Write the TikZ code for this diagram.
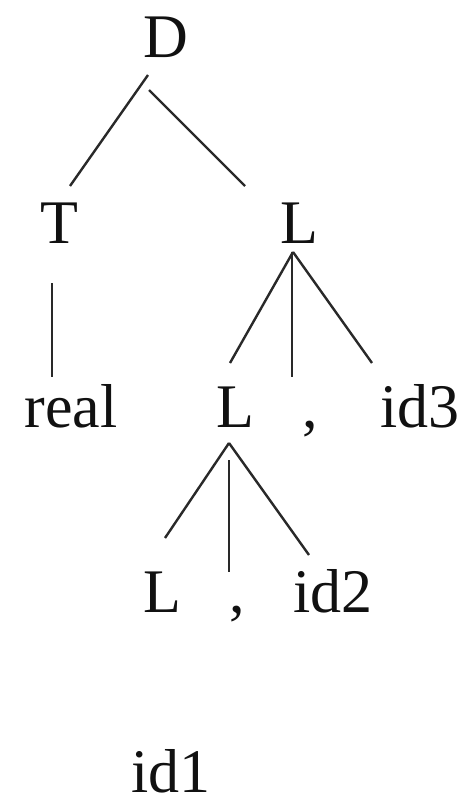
\documentclass[tikz,border=0pt]{standalone}
\usepackage{fontspec}
\setmainfont{Liberation Serif}
\usetikzlibrary{calc}
\definecolor{ptink}{HTML}{111111}
\tikzset{
  sym/.style={anchor=base,inner sep=0pt,text=ptink,font=\fontsize{31}{37}\selectfont},
  edge/.style={draw=ptink!90,line width=1.2pt},
}

\begin{document}
\begin{tikzpicture}[x=0.5pt,y=-0.5pt]
  \useasboundingbox (0,0) rectangle (465,802);
  % grammar symbols, placed on their baselines
  \node[sym] (D) at (166,58) {D};
  \node[sym] (T) at (59,243) {T};
  \node[sym] (L1) at (299,243) {L};
  \node[sym] (real) at (71,427) {real};
  \node[sym] (L2) at (235,427) {L};
  \node[sym] (c1) at (310,427) {,};
  \node[sym] (id3) at (420,427) {id3};
  \node[sym] (L3) at (162,612) {L};
  \node[sym] (c2) at (237,612) {,};
  \node[sym] (id2) at (333,612) {id2};
  \node[sym] (id1) at (171,792) {id1};
  % branch points under the two upper L's
  \coordinate (L1-foot) at ([shift={(-6,9)}]L1.base);
  \coordinate (L2-foot) at ([shift={(-6,16)}]L2.base);
  \draw[edge] ([shift={(-18,17)}]D.base) -- ([shift={(11,-57)}]T.base);
  \draw[edge] ([shift={(-17,32)}]D.base) -- ([shift={(-54,-57)}]L1.base);
  \draw[edge] ([shift={(-7,40)}]T.base) -- ([shift={(-19,-50)}]real.base);
  \draw[edge] (L1-foot) -- ([shift={(-5,-64)}]L2.base);
  \draw[edge] ([shift={(-1,0)}]L1-foot) -- ([shift={(-18,-50)}]c1.base);
  \draw[edge] (L1-foot) -- ([shift={(-48,-64)}]id3.base);
  \draw[edge] (L2-foot) -- ([shift={(3,-74)}]L3.base);
  \draw[edge] ([shift={(0,17)}]L2-foot) -- ([shift={(-8,-40)}]c2.base);
  \draw[edge] (L2-foot) -- ([shift={(-24,-57)}]id2.base);
\end{tikzpicture}
\end{document}
